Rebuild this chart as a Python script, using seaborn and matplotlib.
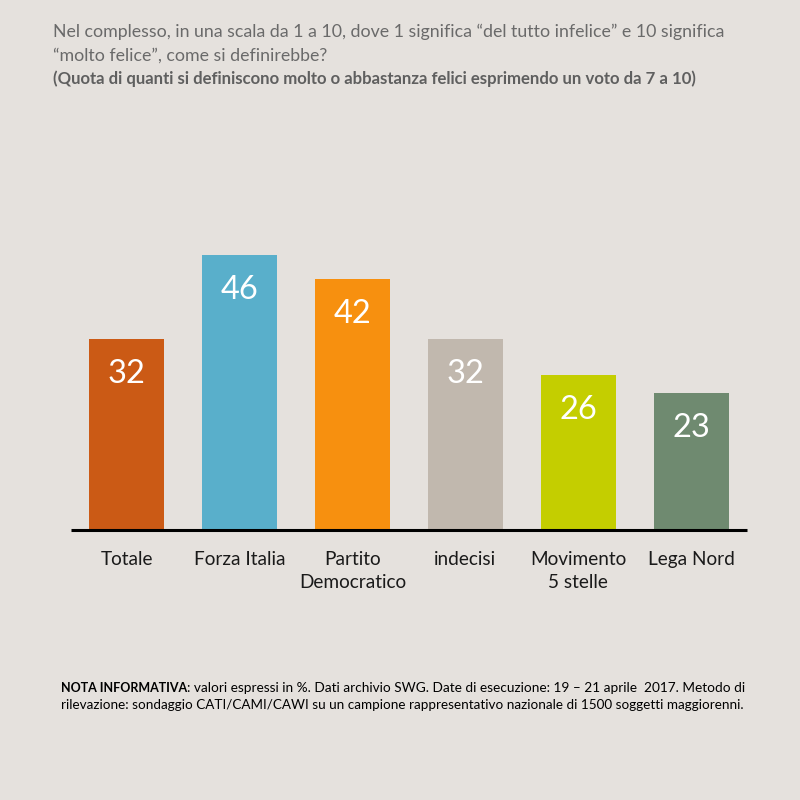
import matplotlib
matplotlib.use("Agg")
import matplotlib.pyplot as plt
import seaborn as sns
import pandas as pd

categories = ["Totale", "Forza Italia", "Partito\nDemocratico", "indecisi", "Movimento\n5 stelle", "Lega Nord"]
values = [32, 46, 42, 32, 26, 23]
colors = ["#CB5A15", "#59AFCB", "#F7900F", "#C1B8AE", "#C4CE00", "#6F8A70"]
BG = "#E5E1DD"
title_lines = ["Nel complesso, in una scala da 1 a 10, dove 1 significa “del tutto infelice” e 10 significa",
               "“molto felice”, come si definirebbe?"]
subtitle = "(Quota di quanti si definiscono molto o abbastanza felici esprimendo un voto da 7 a 10)"

sns.set_theme(style="white")
plt.rcParams['font.family'] = ['Lato', 'DejaVu Sans']
df = pd.DataFrame({"cat": categories, "val": values})

fig = plt.figure(figsize=(8, 8), dpi=100, facecolor=BG)
ax = fig.add_axes([70.5/800, 1-530/800, 677/800, 330/800], facecolor=BG)
sns.barplot(data=df, x="cat", y="val", hue="cat", palette=colors, legend=False, ax=ax,
            width=0.665, saturation=1, linewidth=0, edgecolor="none")
ax.set_ylim(0, 330/5.97)
ax.set_xlim(-0.5, 5.5)
ax.set_xlabel(""); ax.set_ylabel("")
ax.set_yticks([])
for s in ["top", "left", "right"]:
    ax.spines[s].set_visible(False)
ax.spines["bottom"].set_color("black")
ax.spines["bottom"].set_linewidth(2.2)
ax.spines["bottom"].set_capstyle("butt")
ax.tick_params(axis="x", length=0, pad=15, labelsize=13.7, labelcolor="#1a1a1a")
for lab in ax.get_xticklabels():
    lab.set_linespacing(1.42)
for c in ax.containers:
    ax.bar_label(c, fmt="%.0f", label_type="edge", padding=-36, color="white", fontsize=23.5)

fig.text(53/800, 1-32/800, title_lines[0], fontsize=12.8, color="#6a6a6a", va="center")
fig.text(53/800, 1-56/800, title_lines[1], fontsize=12.8, color="#6a6a6a", va="center")
fig.text(53/800, 1-79/800, subtitle, fontsize=12.05, color="#5f5f5f", va="center", fontweight="bold")
n1 = fig.text(61/800, 1-688/800, "NOTA INFORMATIVA", fontsize=9.0, color="black", va="center", fontweight="bold")
fig.canvas.draw()
bb = n1.get_window_extent()
fig.text(bb.x1/800, 1-688/800, ": valori espressi in %. Dati archivio SWG. Date di esecuzione: 19 – 21 aprile  2017. Metodo di", fontsize=9.77, color="black", va="center")
fig.text(61/800, 1-705/800, "rilevazione: sondaggio CATI/CAMI/CAWI su un campione rappresentativo nazionale di 1500 soggetti maggiorenni.", fontsize=9.7, color="black", va="center")
fig.savefig("out.png", dpi=100, facecolor=BG)
